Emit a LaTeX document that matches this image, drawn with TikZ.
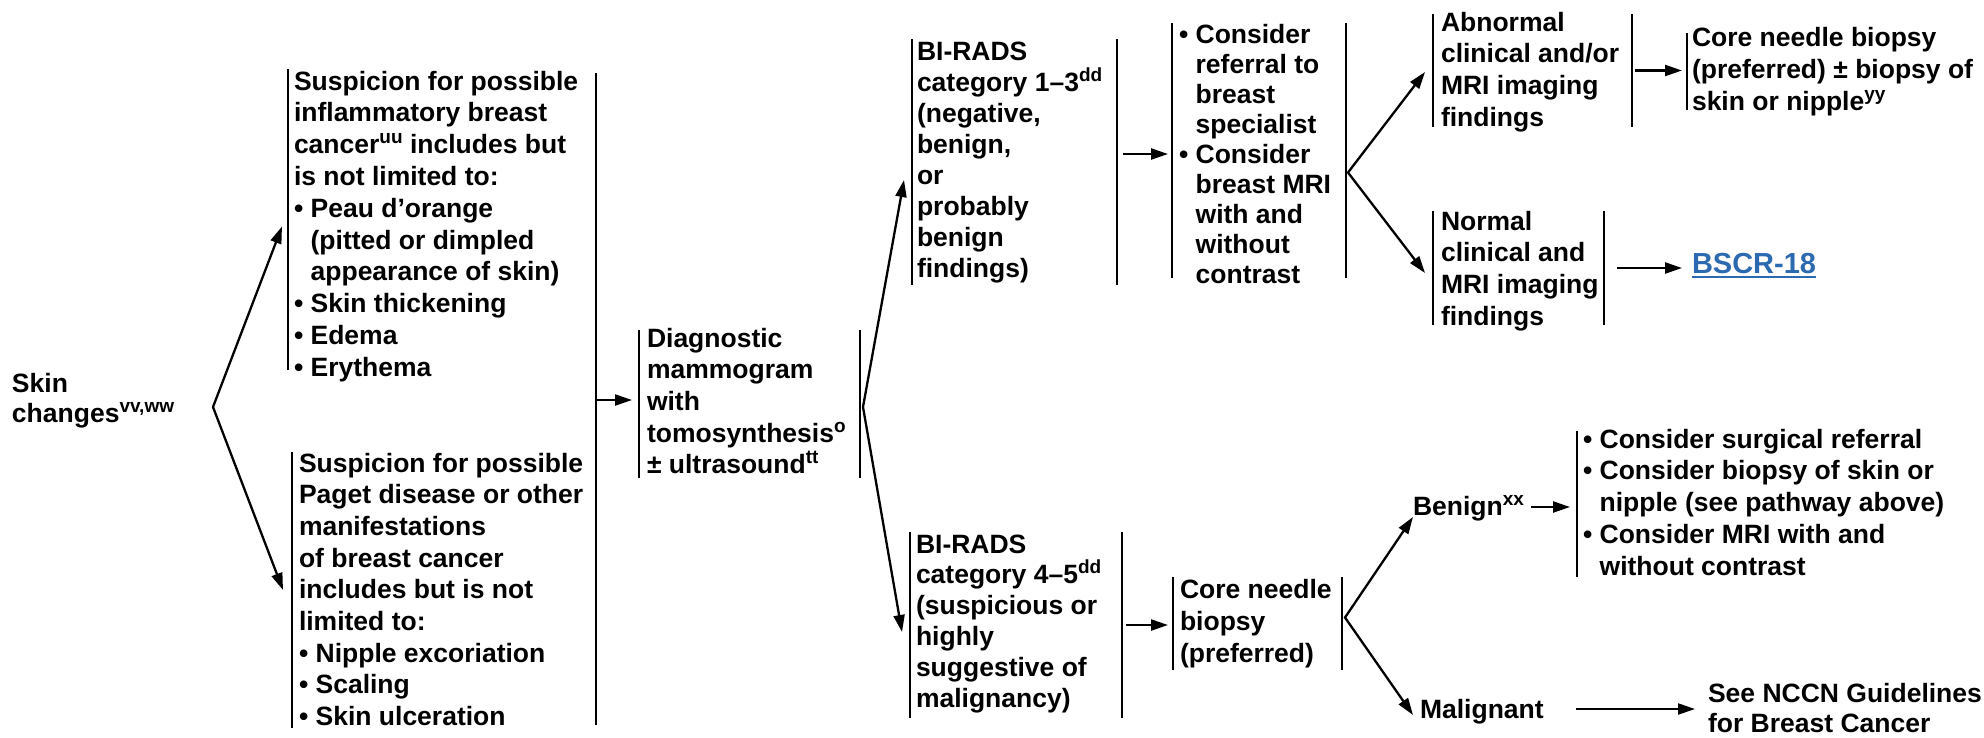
\documentclass[tikz,border=0pt]{standalone}
\usepackage{fontspec}
\setmainfont{Liberation Sans}
\usetikzlibrary{arrows.meta,calc}
\definecolor{linkblue}{RGB}{43,106,176}
\newcommand\sups[1]{\raisebox{10pt}[0pt][0pt]{\fontsize{19}{19}\selectfont #1}}
\newcommand\tl[1]{\begin{tabular}[t]{@{}l@{}}#1\end{tabular}}
\newcommand\ind{\hphantom{•\ }}
\renewcommand\arraystretch{1}
\newcommand\mkframe[5]{\node[fr,minimum width={#3-#2},minimum height={#5-#4}] (#1) at ({(#2+#3)/2},{(#4+#5)/2}) {};}
\begin{document}
\begin{tikzpicture}[x=1pt,y=-1pt,
  fr/.style={inner sep=0pt,outer sep=0pt,draw=none},
  bar/.style={line width=2.6pt},
  txt/.style={inner sep=0pt,outer sep=0pt,anchor=base west,font=\fontsize{26.5}{31.7}\selectfont\bfseries},
  pitch/.style={font=\fontsize{26.5}{#1}\selectfont\bfseries},
  arr/.style={line width=2.3pt,-{Triangle[length=17pt,width=11pt]}},
  dbl/.style={line width=2.3pt,{Triangle[length=17pt,width=11pt]}-{Triangle[length=17pt,width=11pt]}}]
\useasboundingbox (0,0) rectangle (1984,737);

% frames (bar extents)
\mkframe{inflam}{288}{596}{69}{370}
\mkframe{paget}{292}{596}{452}{728}
\mkframe{diag}{639}{860}{330}{478}
\mkframe{bir13}{912}{1117}{39}{285}
\mkframe{consid}{1172}{1346}{23}{278}
\mkframe{abn}{1433}{1632}{14}{127}
\mkframe{core1}{1687}{1960}{33}{110}
\mkframe{normal}{1433}{1604}{211}{325}
\mkframe{bir45}{910}{1122}{532}{718}
\mkframe{core2}{1173}{1342}{577}{670}
\mkframe{benlist}{1577}{1960}{431}{577}

% bars
\draw[bar] (inflam.north west) -- (inflam.south west);
\draw[bar] (paget.north west) -- (paget.south west);
\draw[bar] ($(inflam.north east)+(0,4)$) -- ($(paget.south east)+(0,-3)$);
\foreach \n in {diag,bir13,consid,abn,normal,bir45,core2}{
  \draw[bar] (\n.north west) -- (\n.south west);
  \draw[bar] (\n.north east) -- (\n.south east);
}
\draw[bar] (core1.north west) -- (core1.south west);
\draw[bar] (benlist.north west) -- (benlist.south west);

% texts
\node[txt,pitch=30] (skinT) at (12,392) {\tl{Skin\\changes\sups{vv,ww}}};
\node[txt,pitch=31.8] (inflamT) at (294,90) {\tl{Suspicion for possible\\
inflammatory breast\\
cancer\sups{uu} includes but\\
is not limited to:\\
• Peau d’orange\\
\ind(pitted or dimpled\\
\ind appearance of skin)\\
• Skin thickening\\
• Edema\\
• Erythema}};
\node[txt,pitch=31.7] (pagetT) at (299,472) {\tl{Suspicion for possible\\
Paget disease or other\\
manifestations\\
of breast cancer\\
includes but is not\\
limited to:\\
• Nipple excoriation\\
• Scaling\\
• Skin ulceration}};
\node[txt,pitch=31.7] (diagT) at (647,347) {\tl{Diagnostic\\mammogram\\with\\tomosynthesis\sups{o}\\± ultrasound\sups{tt}}};
\node[txt,pitch=31] (bir13T) at (917,60) {\tl{BI-RADS\\category 1–3\sups{dd}\\(negative,\\benign,\\or\\probably\\benign\\findings)}};
\node[txt,pitch=30.1] (considT) at (1179,43) {\tl{• Consider\\\ind referral to\\\ind breast\\\ind specialist\\• Consider\\\ind breast MRI\\\ind with and\\\ind without\\\ind contrast}};
\node[txt,pitch=31.7] (abnT) at (1441,31) {\tl{Abnormal\\clinical and/or\\MRI imaging\\findings}};
\node[txt,pitch=32] (core1T) at (1692,46) {\tl{Core needle biopsy\\(preferred) ± biopsy of\\skin or nipple\sups{yy}}};
\node[txt,pitch=31.7] (normalT) at (1441,230) {\tl{Normal\\clinical and\\MRI imaging\\findings}};
\node[txt,text=linkblue,font=\fontsize{29}{34}\selectfont\bfseries] (bscr) at (1692,273) {BSCR-18};
\draw[linkblue,line width=2pt] ($(bscr.base west)+(0,3.5)$) -- ($(bscr.base east)+(0,3.5)$);
\node[txt,pitch=30.8] (bir45T) at (916,553) {\tl{BI-RADS\\category 4–5\sups{dd}\\(suspicious or\\highly\\suggestive of\\malignancy)}};
\node[txt,pitch=32] (core2T) at (1180,598) {\tl{Core needle\\biopsy\\(preferred)}};
\node[txt] (benign) at (1413,515) {Benign\sups{xx}};
\node[txt,pitch=31.8] (benlistT) at (1583,448) {\tl{• Consider surgical referral\\• Consider biopsy of skin or\\\ind nipple (see pathway above)\\• Consider MRI with and\\\ind without contrast}};
\node[txt] (malig) at (1420,718) {Malignant};
\node[txt,pitch=30] (nccnT) at (1708,702) {\tl{See NCCN Guidelines\\for Breast Cancer}};

% connectors
\coordinate (skv) at (213,407);
\draw[dbl] ($(inflam.west)+(-6,7)$) -- (skv) -- ($(paget.west)+(-9,0)$);
\draw[arr] ($(diag.west -| paget.east)+(0,-4)$) -- ($(diag.west)+(-7,-4)$);
\coordinate (dv) at ($(diag.east)+(3,3)$);
\draw[dbl] ($(bir13.west)+(-8,18)$) -- (dv) -- ($(bir45.west)+(-8,7)$);
\draw[arr] ($(bir13.east)+(6,-8)$) -- ($(bir13.east -| consid.west)+(-4,-8)$);
\coordinate (cv) at ($(consid.east)+(2,22)$);
\draw[dbl] ($(abn.west)+(-8,1.5)$) -- (cv) -- ($(normal.west)+(-8,5)$);
\draw[arr] ($(abn.east)+(3,0)$) -- ($(abn.east -| core1.west)+(-5,0)$);
\draw[arr] ($(normal.east)+(13,0)$) -- ($(normal.east -| bscr.west)+(-10,0)$);
\draw[arr] ($(bir45.east)+(4,0)$) -- ($(bir45.east -| core2.west)+(-5,0)$);
\coordinate (bv) at ($(core2.east)+(3,-6)$);
\draw[dbl] ($(benign.base west)+(0,2)$) -- (bv) -- ($(malig.base west)+(-7,-3)$);
\draw[arr] ($(benign.base east)+(7,-8)$) -- ($(benign.base east -| benlist.west)+(-7,-8)$);
\draw[arr] ($(malig.base east)+(32,-9)$) -- ($(malig.base east -| nccnT.west)+(-13,-9)$);
\end{tikzpicture}
\end{document}
